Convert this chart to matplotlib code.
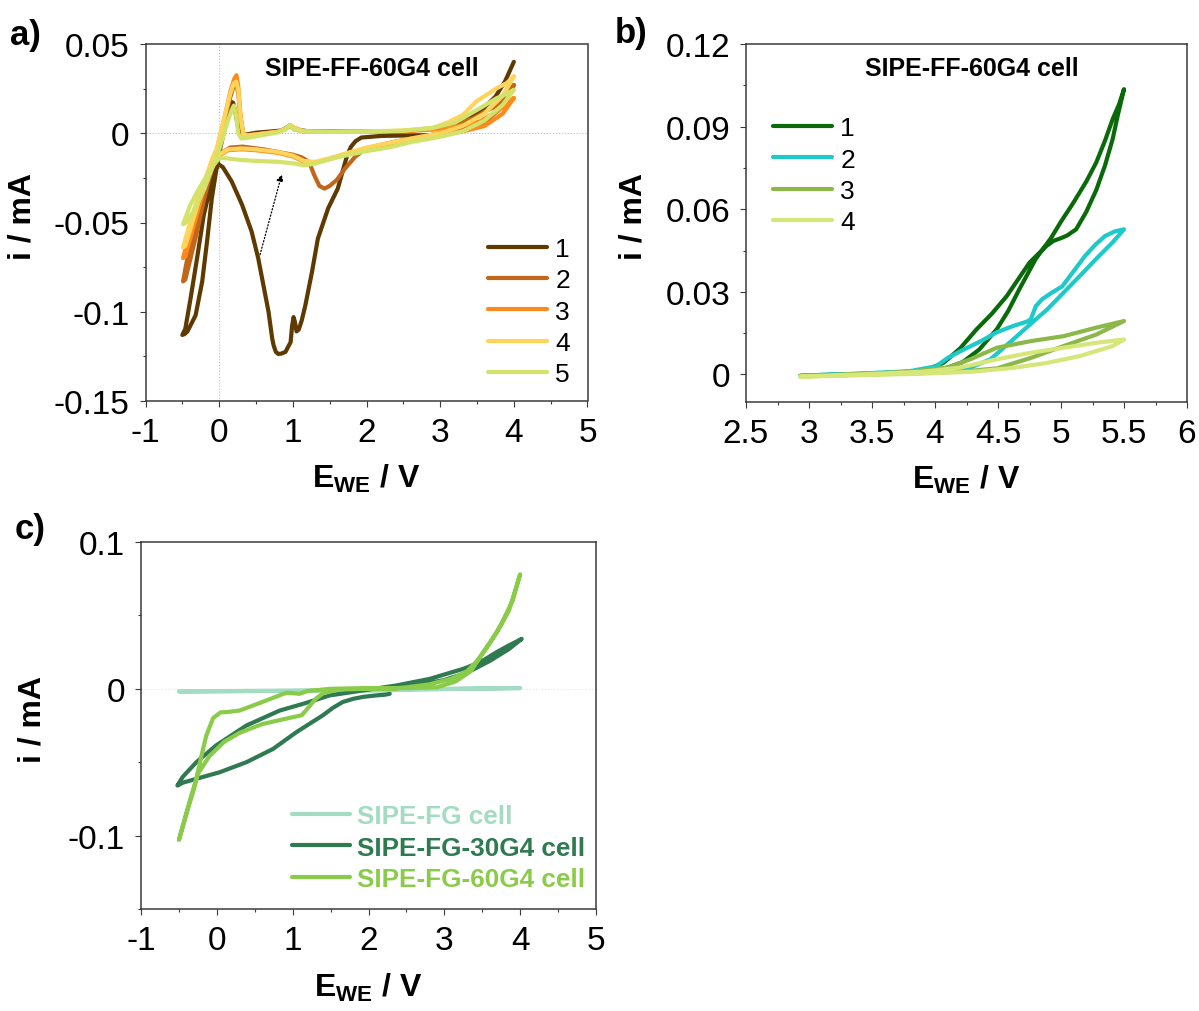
import matplotlib
matplotlib.use("Agg")
import matplotlib.pyplot as plt
from matplotlib.ticker import FuncFormatter, MultipleLocator

plt.rcParams['font.family'] = ['Liberation Sans', 'DejaVu Sans']
plt.rcParams['axes.unicode_minus'] = False
plt.rcParams['mathtext.fontset'] = 'custom'
plt.rcParams['mathtext.rm'] = 'Liberation Sans'
plt.rcParams['mathtext.bf'] = 'Liberation Sans:bold'
plt.rcParams['mathtext.it'] = 'Liberation Sans:italic'

# ---------------- Panel a data: SIPE-FF-60G4 cell, cycles 1-5 ----------------
a_labels = ['1', '2', '3', '4', '5']
a_colors = ['#5E3A00', '#C2661C', '#FF8A1C', '#FFD45A', '#D3E36A']

a1_E = [3.0, 2.6, 2.2, 1.93, 1.85, 1.79, 1.74, 1.70, 1.61, 1.48, 1.34, 1.26, 1.17, 1.12, 1.08,
        1.05, 1.03, 1.01, 0.99, 0.97, 0.90, 0.84, 0.80, 0.77, 0.74, 0.72, 0.71, 0.67, 0.60,
        0.53, 0.44, 0.31, 0.17, 0.05, -0.02, -0.10, -0.21, -0.30, -0.39, -0.46, -0.50, -0.47,
        -0.43, -0.32, -0.23, -0.16, -0.10, -0.05, 0.0, 0.05, 0.10, 0.14, 0.17, 0.19, 0.22, 0.25,
        0.28, 0.33, 0.5, 0.7, 0.85, 0.93, 0.97, 1.03, 1.2, 1.6, 2.0, 2.5, 2.9, 3.2, 3.4, 3.6,
        3.75, 3.88, 4.0]
a1_I = [-0.001, -0.0012, -0.0015, -0.0024, -0.0045, -0.0075, -0.012, -0.0178, -0.031, -0.042,
        -0.059, -0.0777, -0.0964, -0.105, -0.110, -0.111, -0.106, -0.103, -0.108, -0.117,
        -0.1225, -0.1235, -0.1236, -0.1225, -0.119, -0.115, -0.112, -0.100, -0.085, -0.070,
        -0.055, -0.040, -0.027, -0.019, -0.017, -0.027, -0.046, -0.070, -0.093, -0.1096,
        -0.113, -0.1125, -0.111, -0.102, -0.083, -0.059, -0.0365, -0.0234, -0.011, -0.002,
        0.008, 0.015, 0.0175, 0.017, 0.012, 0.005, 0.0005, -0.001, 0.0003, 0.001, 0.0015,
        0.0035, 0.004, 0.002, 0.0012, 0.001, 0.0008, 0.0012, 0.0025, 0.0055, 0.009, 0.0145,
        0.0205, 0.029, 0.040]

a2_E = [4.0, 3.85, 3.6, 3.3, 3.0, 2.6, 2.3, 2.0, 1.85, 1.71, 1.6, 1.5, 1.43, 1.36, 1.29, 1.22,
        1.12, 1.0, 0.8, 0.6, 0.32, 0.15, 0.03, -0.08, -0.18, -0.28, -0.38, -0.45, -0.49, -0.46,
        -0.40, -0.30, -0.20, -0.10, -0.03, 0.03, 0.09, 0.15, 0.20, 0.23, 0.26, 0.29, 0.33, 0.4,
        0.6, 0.8, 0.9, 0.96, 1.02, 1.15, 1.5, 2.0, 2.5, 2.9, 3.2, 3.45, 3.65, 3.8, 3.9, 4.0]
a2_I = [0.027, 0.015, 0.006, 0.002, 0.0, -0.003, -0.0055, -0.0084, -0.013, -0.0197, -0.026,
        -0.0295, -0.031, -0.0295, -0.0234, -0.016, -0.0135, -0.012, -0.0105, -0.009, -0.0075,
        -0.008, -0.011, -0.018, -0.028, -0.042, -0.060, -0.074, -0.083, -0.082, -0.072, -0.055,
        -0.036, -0.020, -0.010, 0.0, 0.010, 0.020, 0.027, 0.028, 0.022, 0.008, -0.001, -0.001,
        0.0, 0.001, 0.0025, 0.0045, 0.003, 0.001, 0.0008, 0.0008, 0.0012, 0.0025, 0.005,
        0.0084, 0.013, 0.016, 0.021, 0.027]

a3_E = [4.0, 3.85, 3.6, 3.3, 3.0, 2.6, 2.3, 2.0, 1.7, 1.5, 1.3, 1.15, 1.0, 0.8, 0.5, 0.3, 0.12,
        0.02, -0.08, -0.18, -0.28, -0.38, -0.45, -0.49, -0.46, -0.40, -0.30, -0.20, -0.10,
        -0.03, 0.03, 0.09, 0.15, 0.20, 0.235, 0.26, 0.29, 0.33, 0.4, 0.6, 0.8, 0.9, 0.96, 1.02,
        1.15, 1.5, 2.0, 2.5, 2.9, 3.2, 3.54, 3.77, 3.9, 4.0]
a3_I = [0.0197, 0.011, 0.004, 0.001, -0.001, -0.004, -0.006, -0.0085, -0.012, -0.0145, -0.0165,
        -0.016, -0.013, -0.011, -0.0095, -0.009, -0.0095, -0.012, -0.018, -0.027, -0.038,
        -0.052, -0.063, -0.070, -0.069, -0.060, -0.045, -0.030, -0.017, -0.009, 0.001, 0.012,
        0.023, 0.030, 0.0325, 0.026, 0.010, -0.001, -0.0012, -0.0002, 0.0008, 0.0025, 0.0045,
        0.003, 0.001, 0.0008, 0.0008, 0.0012, 0.002, 0.0035, 0.0066, 0.0122, 0.016, 0.0197]

a4_E = [4.0, 3.85, 3.6, 3.3, 3.0, 2.6, 2.3, 2.0, 1.7, 1.5, 1.3, 1.15, 1.0, 0.8, 0.5, 0.3, 0.12,
        0.02, -0.08, -0.18, -0.28, -0.38, -0.45, -0.49, -0.46, -0.40, -0.30, -0.20, -0.10,
        -0.03, 0.03, 0.09, 0.15, 0.20, 0.23, 0.26, 0.29, 0.33, 0.4, 0.6, 0.8, 0.9, 0.96, 1.02,
        1.15, 1.5, 2.0, 2.5, 2.9, 3.1, 3.31, 3.49, 3.77, 3.9, 4.0]
a4_I = [0.0318, 0.021, 0.011, 0.004, 0.0, -0.003, -0.0055, -0.008, -0.0115, -0.014, -0.016,
        -0.0155, -0.0125, -0.0105, -0.009, -0.0085, -0.009, -0.0115, -0.017, -0.025, -0.035,
        -0.048, -0.058, -0.064, -0.063, -0.055, -0.041, -0.027, -0.015, -0.008, 0.002, 0.012,
        0.022, 0.028, 0.029, 0.024, 0.009, -0.001, -0.0012, -0.0002, 0.0008, 0.0025, 0.0045,
        0.003, 0.001, 0.0008, 0.001, 0.0015, 0.003, 0.006, 0.0103, 0.0178, 0.0253, 0.028,
        0.0318]

a5_E = [4.0, 3.85, 3.6, 3.3, 3.0, 2.6, 2.3, 2.0, 1.6, 1.3, 1.15, 1.0, 0.8, 0.5, 0.3, 0.1, 0.0,
        -0.1, -0.2, -0.3, -0.4, -0.49, -0.45, -0.35, -0.2, -0.1, 0.0, 0.06, 0.12, 0.17, 0.2,
        0.23, 0.26, 0.3, 0.4, 0.6, 0.8, 0.9, 0.96, 1.02, 1.15, 1.5, 2.0, 2.5, 2.9, 3.2, 3.54,
        3.77, 3.9, 4.0]
a5_I = [0.0243, 0.016, 0.007, 0.001, -0.002, -0.005, -0.008, -0.010, -0.0135, -0.017, -0.018,
        -0.0168, -0.016, -0.0155, -0.015, -0.014, -0.014, -0.019, -0.026, -0.033, -0.041,
        -0.051, -0.050, -0.044, -0.031, -0.020, -0.009, -0.001, 0.007, 0.013, 0.0155, 0.010,
        0.0, -0.003, -0.0025, -0.001, 0.0005, 0.002, 0.0045, 0.002, 0.001, 0.0008, 0.0008,
        0.0015, 0.003, 0.006, 0.014, 0.0197, 0.022, 0.0243]

a_E = [a1_E, a2_E, a3_E, a4_E, a5_E]
a_I = [a1_I, a2_I, a3_I, a4_I, a5_I]

# ---------------- Panel b data: anodic stability, cycles 1-4 ----------------
b_labels = ['1', '2', '3', '4']
b_colors = ['#0A6A0A', '#1DC9C9', '#8CB84A', '#D6E679']

b1_E = [2.93, 3.2, 3.5, 3.8, 4.0, 4.1, 4.22, 4.35, 4.49, 4.58, 4.67, 4.80, 4.92, 5.0, 5.10, 5.2,
        5.28, 5.35, 5.41, 5.46, 5.5, 5.45, 5.41, 5.35, 5.28, 5.2, 5.12, 5.05, 5.0, 4.94, 4.88,
        4.75, 4.57, 4.45, 4.33, 4.2, 4.07, 3.95, 3.8, 3.5, 3.2, 2.95]
b1_I = [-0.0005, -0.0003, 0.0, 0.0006, 0.0015, 0.0025, 0.0045, 0.009, 0.0164, 0.023, 0.031,
        0.042, 0.0495, 0.0555, 0.0625, 0.070, 0.077, 0.085, 0.0927, 0.098, 0.1036, 0.094,
        0.0855, 0.076, 0.067, 0.059, 0.0527, 0.0505, 0.0495, 0.0485, 0.0465, 0.0406, 0.0285,
        0.022, 0.0164, 0.0095, 0.0043, 0.002, 0.001, 0.0003, 0.0, -0.0005]

b2_E = [2.93, 3.3, 3.7, 4.0, 4.28, 4.44, 4.62, 4.75, 4.89, 5.02, 5.15, 5.28, 5.41, 5.5, 5.43,
        5.35, 5.27, 5.19, 5.1, 5.01, 4.92, 4.85, 4.80, 4.76, 4.73, 4.62, 4.49, 4.36, 4.23, 4.1,
        4.01, 3.8, 3.4, 3.0, 2.93]
b2_I = [-0.0005, -0.0002, 0.0003, 0.001, 0.0025, 0.0055, 0.0127, 0.018, 0.0236, 0.0297, 0.0358,
        0.042, 0.048, 0.0527, 0.052, 0.0503, 0.047, 0.043, 0.0375, 0.032, 0.0295, 0.0273,
        0.0248, 0.020, 0.0192, 0.0176, 0.0153, 0.012, 0.0091, 0.006, 0.003, 0.0012, 0.0003,
        -0.0003, -0.0005]

b3_E = [2.93, 3.4, 3.9, 4.2, 4.49, 4.76, 5.02, 5.28, 5.5, 5.28, 5.02, 4.76, 4.49, 4.28, 4.1,
        3.8, 3.3, 2.93]
b3_I = [-0.0005, 0.0, 0.0005, 0.001, 0.0022, 0.006, 0.0103, 0.0145, 0.0194, 0.017, 0.0139,
        0.0121, 0.0097, 0.0055, 0.0025, 0.001, 0.0, -0.0008]

b4_E = [2.93, 3.4, 3.9, 4.3, 4.62, 4.89, 5.15, 5.41, 5.5, 5.28, 5.02, 4.76, 4.49, 4.2, 3.9, 3.4,
        2.93]
b4_I = [-0.0008, -0.0003, 0.0003, 0.001, 0.0024, 0.0042, 0.0067, 0.0103, 0.0127, 0.0115,
        0.0097, 0.0079, 0.0055, 0.0025, 0.001, 0.0, -0.0008]

b_E = [b1_E, b2_E, b3_E, b4_E]
b_I = [b1_I, b2_I, b3_I, b4_I]

# ---------------- Panel c data ----------------
c_labels = ['SIPE-FG cell', 'SIPE-FG-30G4 cell', 'SIPE-FG-60G4 cell']
c_colors = ['#A3DCC2', '#2F7A50', '#8ACB4A']

c1_E = [2.3, 1.0, -0.5, 1.0, 2.5, 4.0, 2.3]
c1_I = [-0.0012, -0.0015, -0.0018, -0.0012, -0.0005, 0.0005, -0.0005]

c2_E = [2.28, 2.22, 2.1, 1.93, 1.8, 1.66, 1.53, 1.40, 1.05, 0.74, 0.39, 0.04, -0.27, -0.45,
        -0.52, -0.45, -0.27, -0.01, 0.39, 0.83, 1.14, 1.49, 1.93, 2.37, 2.81, 3.25, 3.47, 3.69,
        3.85, 4.02, 3.85, 3.6, 3.3, 3.0, 2.6, 2.3]
c2_I = [-0.0034, -0.004, -0.0045, -0.0055, -0.0068, -0.009, -0.013, -0.018, -0.0295, -0.041,
        -0.050, -0.0568, -0.0613, -0.064, -0.0659, -0.060, -0.050, -0.0386, -0.025, -0.0148,
        -0.0102, -0.0045, -0.0011, 0.0023, 0.0068, 0.0136, 0.018, 0.025, 0.0295, 0.034, 0.027,
        0.019, 0.011, 0.006, 0.002, 0.0]

c3_E = [2.3, 2.0, 1.6, 1.4, 1.3, 1.22, 1.12, 0.9, 0.6, 0.3, 0.1, -0.1, -0.25, -0.35, -0.5,
        -0.4, -0.3, -0.2, -0.14, -0.05, 0.05, 0.12, 0.3, 0.6, 0.85, 0.92, 1.0, 1.09, 1.2, 1.5,
        2.0, 2.5, 2.9, 3.15, 3.35, 3.5, 3.7, 3.85, 4.0, 3.9, 3.75, 3.6, 3.45, 3.3, 3.1, 2.8,
        2.5, 2.3]
c3_I = [0.0, 0.0, -0.0005, -0.003, -0.007, -0.012, -0.018, -0.0205, -0.024, -0.030, -0.036,
        -0.046, -0.058, -0.075, -0.103, -0.085, -0.068, -0.045, -0.032, -0.020, -0.016, -0.0159,
        -0.0148, -0.009, -0.004, -0.0027, -0.003, -0.0034, -0.0015, 0.0, 0.0005, 0.0005, 0.001,
        0.005, 0.012, 0.024, 0.039, 0.053, 0.078, 0.060, 0.044, 0.031, 0.020, 0.012, 0.007,
        0.003, 0.001, 0.0]

c_E = [c1_E, c2_E, c3_E]
c_I = [c1_I, c2_I, c3_I]

# ---------------- figure ----------------
W, H = 1199, 1012
fig = plt.figure(figsize=(W / 100, H / 100), dpi=100)


def px_axes(left, top, right, bottom):
    return fig.add_axes([left / W, 1 - bottom / H, (right - left) / W, (bottom - top) / H])


def fmt(v, pos):
    if abs(v) < 1e-12:
        return '0'
    return f'{v:g}'


SPINE = '#3a3a3a'
TICKFS = 24
LABFS = 23


def style(ax, xmaj, xmin, ymaj, ymin):
    for s in ax.spines.values():
        s.set_color(SPINE)
        s.set_linewidth(1.1)
    ax.xaxis.set_major_locator(MultipleLocator(xmaj))
    ax.xaxis.set_minor_locator(MultipleLocator(xmin))
    ax.yaxis.set_major_locator(MultipleLocator(ymaj))
    ax.yaxis.set_minor_locator(MultipleLocator(ymin))
    ax.xaxis.set_major_formatter(FuncFormatter(fmt))
    ax.yaxis.set_major_formatter(FuncFormatter(fmt))
    ax.tick_params(which='major', direction='out', length=4.5, width=0.8, color=SPINE,
                   labelsize=TICKFS, pad=7, top=False, right=False)
    ax.tick_params(which='minor', direction='out', length=2.5, width=0.8, color=SPINE,
                   top=False, right=False)
    ax.set_xlabel(r'$\mathbf{E}_{\mathbf{WE}}$ / V', fontsize=LABFS, fontweight='bold')
    ax.set_ylabel('i / mA', fontsize=LABFS, fontweight='bold')


LEG = dict(frameon=False, handlelength=2.25, handletextpad=0.3, labelspacing=0.28,
           borderpad=0, borderaxespad=0, loc='upper left')

# ---- panel a ----
axa = px_axes(145.5, 45, 587.5, 402)
axa.axhline(0, color='#bdbdbd', lw=0.8, ls=':', zorder=0)
axa.axvline(0, color='#bdbdbd', lw=0.8, ls=':', zorder=0)
for E, I, c, lab in zip(a_E, a_I, a_colors, a_labels):
    axa.plot(E, I, color=c, lw=3, label=lab, solid_joinstyle='round', solid_capstyle='round')
axa.set_xlim(-1, 5)
axa.set_ylim(-0.15, 0.05)
style(axa, 1, 0.5, 0.05, 0.025)
axa.annotate('', xy=(0.85, -0.023), xytext=(0.555, -0.068),
             arrowprops=dict(arrowstyle='-|>', ls=':', lw=0.9, color='black',
                             mutation_scale=10, shrinkA=0, shrinkB=0))
axa.text(0.512, 0.932, 'SIPE-FF-60G4 cell', transform=axa.transAxes, ha='center', va='center',
         fontsize=18, fontweight='bold')
axa.legend(bbox_to_anchor=(0.775, 0.46), fontsize=19, **LEG)
axa.yaxis.set_label_coords(-0.245, 0.52)
axa.xaxis.set_label_coords(0.5, -0.17)

# ---- panel b ----
axb = px_axes(746, 45, 1187, 403)
for E, I, c, lab in zip(b_E, b_I, b_colors, b_labels):
    axb.plot(E, I, color=c, lw=3, label=lab, solid_joinstyle='round', solid_capstyle='round')
axb.set_xlim(2.5, 6)
axb.set_ylim(-0.01, 0.12)
style(axb, 0.5, 0.25, 0.03, 0.015)
axb.text(0.512, 0.932, 'SIPE-FF-60G4 cell', transform=axb.transAxes, ha='center', va='center',
         fontsize=18, fontweight='bold')
axb.legend(bbox_to_anchor=(0.061, 0.798), fontsize=19, **LEG)
axb.yaxis.set_label_coords(-0.222, 0.52)
axb.xaxis.set_label_coords(0.5, -0.17)

# ---- panel c ----
axc = px_axes(141, 543, 596, 910)
axc.axhline(0, color='#e6e6e6', lw=0.8, ls=':', zorder=0)
for E, I, c, lab in zip(c_E, c_I, c_colors, c_labels):
    axc.plot(E, I, color=c, lw=3, label=lab, solid_joinstyle='round', solid_capstyle='round')
axc.set_xlim(-1, 5)
axc.set_ylim(-0.15, 0.1)
style(axc, 1, 0.5, 0.1, 0.05)
legc = dict(LEG)
legc['labelspacing'] = 0.3
legc['handlelength'] = 2.2
axc.legend(bbox_to_anchor=(0.332, 0.287), prop={'weight': 'bold', 'size': 18.8},
           labelcolor='linecolor', **legc)
axc.yaxis.set_label_coords(-0.205, 0.52)
axc.xaxis.set_label_coords(0.5, -0.17)

# panel letters
fig.text(10 / W, 1 - 35 / H, 'a)', fontsize=25, fontweight='bold', va='center', ha='left')
fig.text(615 / W, 1 - 33 / H, 'b)', fontsize=25, fontweight='bold', va='center', ha='left')
fig.text(15 / W, 1 - 530 / H, 'c)', fontsize=25, fontweight='bold', va='center', ha='left')

fig.savefig('out.png', dpi=100)
